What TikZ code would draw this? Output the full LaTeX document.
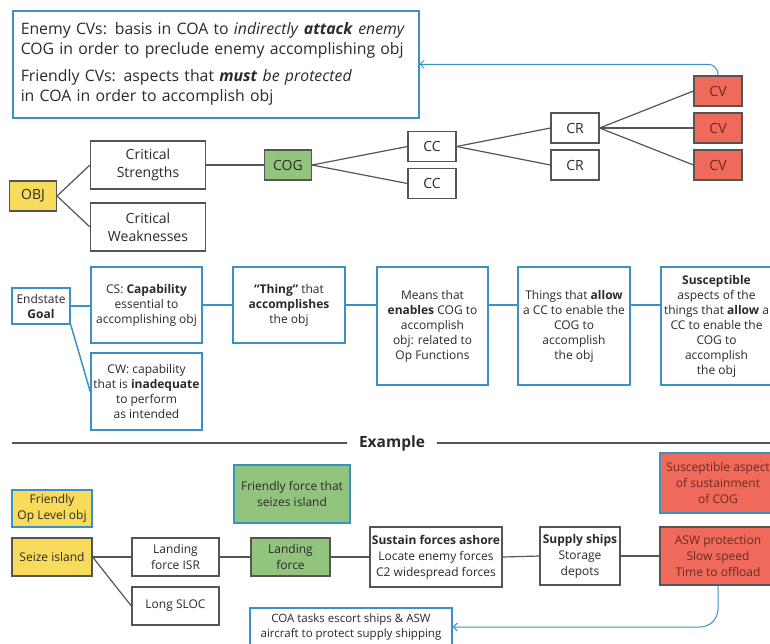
\documentclass[tikz,border=0pt]{standalone}
\usepackage{fontspec}
\setmainfont{Open Sans}
\usetikzlibrary{arrows.meta,trees}
\definecolor{objyellow}{HTML}{F9DB5C}
\definecolor{coggreen}{HTML}{93C47D}
\definecolor{cvred}{HTML}{EF6A5A}
\definecolor{cvtext}{HTML}{6E2A22}
\definecolor{noteblue}{HTML}{3A92C4}
\definecolor{linegray}{HTML}{555555}
\definecolor{textgray}{HTML}{2A2A2A}
\begin{document}
\begin{tikzpicture}[x=1pt,y=-1pt,grow'=right,
      level 1/.style={level distance=115pt,sibling distance=62pt},
      level 2/.style={level distance=140pt},
      level 3/.style={level distance=144pt,sibling distance=37pt},
      level 4/.style={level distance=143pt,sibling distance=37pt},
      level 5/.style={level distance=143pt,sibling distance=37pt},
      edge from parent/.style={draw=linegray,line width=1.2pt},
      edge from parent path={(\tikzparentnode.east) -- (\tikzchildnode.west)},
      >={Straight Barb[length=4pt,width=8pt]},
  every node/.style={text=textgray,align=center}]
  \tikzstyle{treebox} = [draw=linegray,line width=1.1pt,fill=white,font=\fontsize{14}{18}\selectfont,minimum width=48pt,minimum height=30pt,inner sep=2pt]
  \tikzstyle{wordbox} = [treebox,minimum width=115pt,minimum height=48pt]
  \tikzstyle{cvbox} = [treebox,fill=cvred,text=cvtext]
  \tikzstyle{defbox} = [draw=noteblue,line width=1.5pt,fill=white,font=\fontsize{12}{15}\selectfont,minimum width=111pt,minimum height=76pt,inner sep=2pt]
  \tikzstyle{defline} = [draw=noteblue,line width=1.5pt]
  \tikzstyle{exbox} = [draw=linegray,line width=1.2pt,fill=white,font=\fontsize{12}{16}\selectfont,minimum height=38pt,inner sep=2pt]
  \tikzstyle{exline} = [draw=linegray,line width=1.2pt]
  \tikzstyle{noteline} = [draw=noteblue,line width=1pt]
  \useasboundingbox (0,0) rectangle (770,643);
  \clip (0,0) rectangle (770,643);
  \node (cvnote) [draw=noteblue,line width=1.5pt,anchor=north west,text width=390pt,align=left,minimum height=107pt,inner sep=8pt,font=\fontsize{15.8}{20}\selectfont] at (12,10)
  {Enemy CVs: basis in COA to \textit{indirectly} \textbf{\textit{attack}} \textit{enemy}\\
   COG in order to preclude enemy accomplishing obj\\[7pt]
   Friendly CVs: aspects that \textbf{\textit{must}} \textit{be protected}\\
   in COA in order to accomplish obj};
  \node (obj) [treebox,fill=objyellow,minimum width=47pt] at (33,196) {OBJ}
  child {node (cs) [wordbox] {Critical\\Strengths}
    child {node (cog) [treebox,fill=coggreen,minimum width=47pt] {COG}
      child {node (cc1) [treebox] {CC}
        child {node (cr1) [treebox] {CR}
          child {node (cv1) [cvbox] {CV}}
          child {node (cv2) [cvbox] {CV}}
          child {node (cv3) [cvbox] {CV}}}
        child {node (cr2) [treebox] {CR}}}
      child {node (cc2) [treebox] {CC}}}}
  child {node (cw) [wordbox] {Critical\\Weaknesses}};
  \draw[->,noteline,rounded corners=10pt] (cv1.north) |- (cvnote.east);
  \node (goal) [defbox,minimum width=58pt,minimum height=36pt] at (41,306) {Endstate\\\textbf{Goal}};
  \node (csdef) [defbox] at (146.5,305) {CS: \textbf{Capability}\\essential to\\accomplishing obj};
  \node (cwdef) [defbox,minimum height=77pt] at (146.5,391.5) {CW: capability\\that is \textbf{inadequate}\\to perform\\as intended};
  \node (thing) [defbox,minimum width=112pt] at (289,305) {\textbf{“Thing”} that\\\textbf{accomplishes}\\the obj};
  \node (means) [defbox,minimum height=118pt] at (432.5,326) {Means that\\\textbf{enables} COG to\\accomplish\\obj: related to\\Op Functions};
  \node (allow) [defbox,minimum width=112pt,minimum height=118pt] at (574,326) {Things that \textbf{allow}\\a CC to enable the\\COG to\\accomplish\\the obj};
  \node (suscept) [defbox,minimum height=118pt] at (716.5,326) {\textbf{Susceptible}\\aspects of the\\things that \textbf{allow} a\\CC to enable the\\COG to\\accomplish\\the obj};
  \draw[defline] (goal.east) -- (goal.east -| csdef.west);
  \draw[defline] (goal.south east) -- (cwdef.west);
  \draw[defline] (csdef.east) -- (thing.west);
  \draw[defline] (thing.east) -- (thing.east -| means.west);
  \draw[defline] (means.east |- thing.east) -- (thing.east -| allow.west);
  \draw[defline] (allow.east |- thing.east) -- (thing.east -| suscept.west);
  \node (extitle) [font=\fontsize{15.5}{18}\selectfont\bfseries,inner xsep=12pt] at (392,443) {Example};
  \coordinate (ruleleft) at (12,443);
  \coordinate (ruleright) at (770,443);
  \draw[exline,line width=1.3pt] (ruleleft) -- (extitle.west) (extitle.east) -- (ruleright);
  \node (opobj) [exbox,fill=objyellow,draw=noteblue,minimum width=80pt,minimum height=37pt] at (52,508.5) {Friendly\\Op Level obj};
  \node (seize) [exbox,fill=objyellow,minimum width=80pt] at (52,557) {Seize island};
  \node (isr) [exbox,minimum width=87pt] at (175.5,557) {Landing\\force ISR};
  \node (sloc) [exbox,minimum width=87pt] at (175.5,606) {Long SLOC};
  \node (ffnote) [exbox,fill=coggreen,draw=noteblue,minimum width=116pt,minimum height=58pt] at (292,494) {Friendly force that\\seizes island};
  \node (lforce) [exbox,fill=coggreen,minimum width=79pt] at (290.5,557) {Landing\\force};
  \node (sustain) [exbox,minimum width=132pt,minimum height=60pt] at (436,557) {\textbf{Sustain forces ashore}\\Locate enemy forces\\C2 widespread forces};
  \node (supply) [exbox,minimum width=80pt,minimum height=58pt] at (580,556) {\textbf{Supply ships}\\Storage\\depots};
  \node (suscnote) [exbox,fill=cvred,draw=noteblue,text=cvtext,minimum width=116pt,minimum height=60pt] at (718,483) {Susceptible aspect\\of sustainment\\of COG};
  \node (asw) [exbox,fill=cvred,text=cvtext,minimum width=116pt,minimum height=58pt] at (718,556) {ASW protection\\Slow speed\\Time to offload};
  \node (coanote) [exbox,draw=noteblue,minimum width=202pt,minimum height=38pt,font=\fontsize{11.5}{14.5}\selectfont] at (351,627) {COA tasks escort ships \& ASW\\aircraft to protect supply shipping};
  \draw[exline] (seize.east) -- (isr.west);
  \draw[exline] (seize.east) -- (sloc.west);
  \draw[exline] (isr.east) -- (lforce.west);
  \draw[exline] (lforce.east) -- (sustain.west);
  \draw[exline] (sustain.east) -- (supply.west);
  \draw[exline] (supply.east) -- (asw.west);
  \draw[->,noteline,rounded corners=18pt] (asw.south) |- (coanote.east);
\end{tikzpicture}
\end{document}
